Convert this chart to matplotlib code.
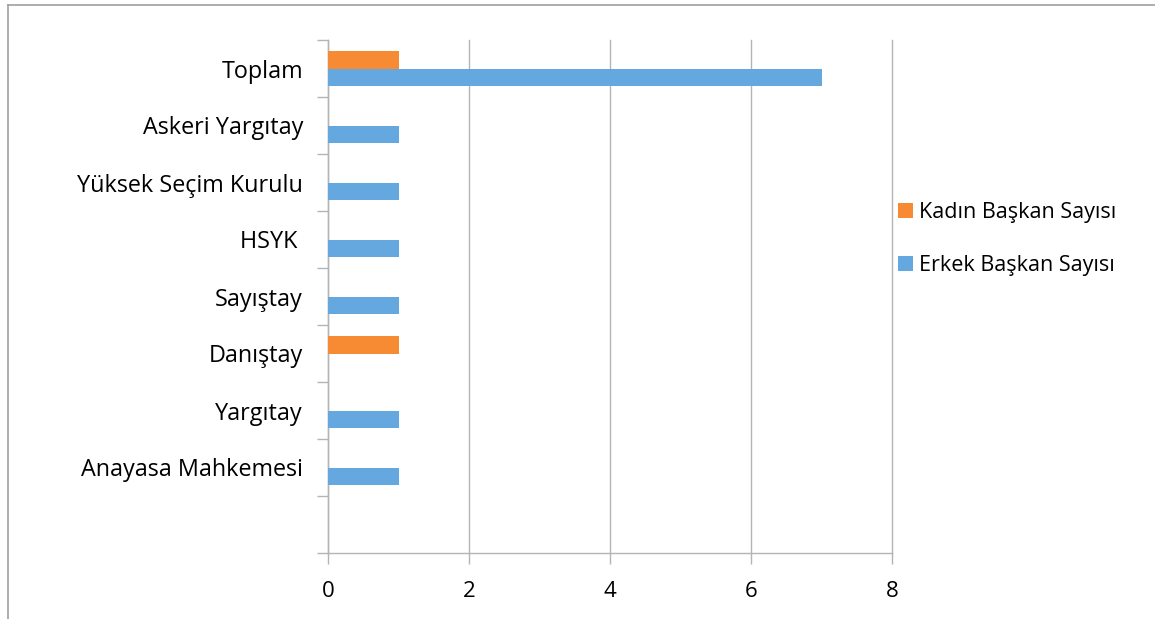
import matplotlib.pyplot as plt
import numpy as np

plt.rcParams['font.family'] = ['Open Sans', 'DejaVu Sans']

# bottom to top, first slot is an empty row
categories = ['', 'Anayasa Mahkemesi', 'Yargıtay', 'Danıştay', 'Sayıştay', 'HSYK ',
              'Yüksek Seçim Kurulu', 'Askeri Yargıtay', 'Toplam']
kadin = [0, 0, 0, 1, 0, 0, 0, 0, 1]
erkek = [0, 1, 1, 0, 1, 1, 1, 1, 7]

orange = '#F68B33'
blue = '#64A8DF'
grey = '#B4B4B4'

fig = plt.figure(figsize=(11.55, 6.19), dpi=100)
ax = fig.add_axes([328 / 1155, 1 - 553 / 619, (892 - 328) / 1155, (553 - 40) / 619])

y = np.arange(len(categories))
h = 0.30
ax.barh(y + h / 2, kadin, height=h, color=orange, label='Kadın Başkan Sayısı', zorder=3)
ax.barh(y - h / 2, erkek, height=h, color=blue, label='Erkek Başkan Sayısı', zorder=3)

ax.set_xlim(0, 8)
ax.set_ylim(-0.5, len(categories) - 0.5)
ax.set_xticks([0, 2, 4, 6, 8])
ax.tick_params(axis='x', length=8, width=1, color=grey, pad=12, labelsize=16)
ax.xaxis.grid(True, color=grey, linewidth=1, zorder=0)
for gl in ax.get_xgridlines():
    gl.set_clip_on(False)

ax.set_yticks(np.arange(len(categories) + 1) - 0.5)
ax.set_yticklabels([])
ax.set_yticks(y, minor=True)
ax.set_yticklabels(categories, minor=True, fontsize=16.8)
ax.tick_params(axis='y', which='major', length=8, width=1, color=grey)
ax.tick_params(axis='y', which='minor', length=0, pad=18)

for s in ['top', 'right']:
    ax.spines[s].set_visible(False)
for s in ['left', 'bottom']:
    ax.spines[s].set_color(grey)
    ax.spines[s].set_linewidth(1)

ax.legend(loc='center left', bbox_to_anchor=(0.995, 0.612), frameon=False, fontsize=15.5,
          handlelength=0.7, handleheight=0.7, handletextpad=0.3, labelspacing=1.45,
          borderaxespad=0.0)

# chart frame (only top and left edges are visible in the crop)
fig.add_artist(plt.Line2D([8 / 1155, 8 / 1155], [0, 1 - 5 / 619], color='#A0A0A0', linewidth=1.2))
fig.add_artist(plt.Line2D([8 / 1155, 1], [1 - 5 / 619, 1 - 5 / 619], color='#A0A0A0', linewidth=1.2))

fig.savefig('out.png', dpi=100)
